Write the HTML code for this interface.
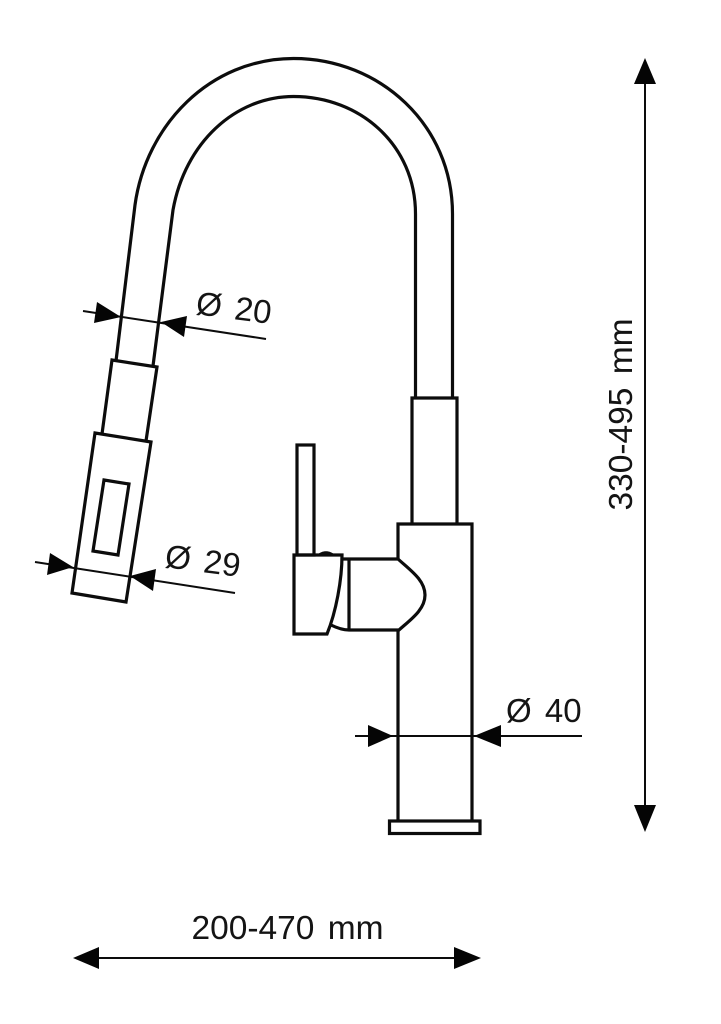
<!DOCTYPE html>
<html>
<head>
<meta charset="utf-8">
<style>
html,body{margin:0;padding:0;background:#fff;}
svg{display:block;}
text{font-family:"Liberation Sans",Arial,sans-serif;fill:#141414;word-spacing:4px;}
</style>
</head>
<body>
<svg width="721" height="1024" viewBox="0 0 721 1024" xmlns="http://www.w3.org/2000/svg">
<rect width="721" height="1024" fill="#fff"/>
<g fill="none" stroke="#0c0c0c" stroke-width="3.200" stroke-linejoin="miter">
  <!-- spout -->
  <path d="M452.500 398V214C452.500 125 380 58.500 293.500 58.500C210 58.500 146 125 135 205L116 361"/>
  <path d="M415.500 398V214C415.500 145 360 96.500 293.500 96.500C235 96.500 185 143 173 210L153 366"/>
  <!-- collar and head -->
  <path d="M102 434L112 360L157 367L146 441"/>
  <path d="M95 433L151 442L126 602L72 593Z"/>
  <path d="M104 480L129 484L118 555L93 551Z"/>
  <!-- body -->
  <path d="M412 524V398H457V524"/>
  <path d="M398 559V524H472V820"/>
  <path d="M398 630V820"/>
  <rect x="389.500" y="821" width="90.500" height="12.500"/>
  <!-- lever -->
  <rect x="297" y="445" width="17" height="110"/>
  <path d="M294 555H342C342 580 336 612 327 634H294Z"/>
  <path d="M342 559H398C410 570 425 580 425 595C425 610 410 620 399 630H349C343 630 337 628 331 625"/>
  <path d="M349 559V630"/>
</g>
<path d="M317 555C322 550 330 550 335 555Z" fill="#0c0c0c"/>
<g stroke="#0c0c0c" stroke-width="2" fill="none">
  <line x1="83" y1="311" x2="266" y2="339"/>
  <line x1="35" y1="562" x2="235" y2="593"/>
  <line x1="355" y1="736" x2="582" y2="736"/>
  <line x1="645" y1="70" x2="645" y2="820"/>
  <line x1="85" y1="958" x2="470" y2="958"/>
</g>
<g fill="#050505">
  <polygon points="121,317 97,302 94,323"/>
  <polygon points="161,322 187,316 184,337"/>
  <polygon points="73,567 50,553 47,575"/>
  <polygon points="130,576 156,569 153,591"/>
  <polygon points="393,736 368,725 368,747"/>
  <polygon points="474,736 501,725 501,747"/>
  <polygon points="645,58 634,84 656,84"/>
  <polygon points="645,832 634,805 656,805"/>
  <polygon points="73,958 99,947 99,969"/>
  <polygon points="481,958 454,947 454,969"/>
</g>
<text x="195" y="314" font-size="33" transform="rotate(7.500 195 314)">Ø 20</text>
<text x="164" y="567" font-size="33" transform="rotate(7.500 164 567)">Ø 29</text>
<text x="506" y="722" font-size="33">Ø 40</text>
<text x="191.500" y="939" font-size="33.500">200-470 mm</text>
<text x="632" y="510.500" font-size="33.500" transform="rotate(-90 632 510.500)">330-495 mm</text>
</svg>
</body>
</html>
